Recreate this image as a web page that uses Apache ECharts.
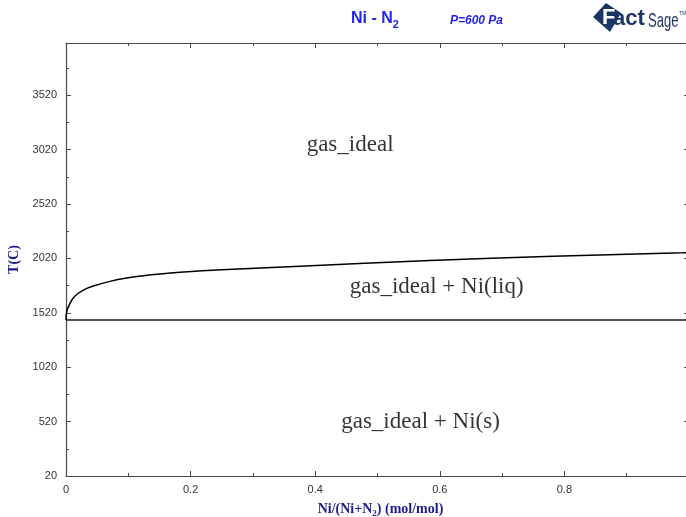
<!DOCTYPE html>
<html>
<head>
<meta charset="utf-8">
<title>Ni - N2 phase diagram</title>
<script src="https://cdn.jsdelivr.net/npm/echarts@6/dist/echarts.min.js"></script>
<style>
  html, body { margin: 0; padding: 0; background: #ffffff; }
  #chart { width: 686px; height: 517px; }
</style>
</head>
<body>
<div id="chart"></div>
<script>
// Boundary gas_ideal / gas_ideal + Ni(liq): mole fraction Ni vs. temperature (C)
const boundaryX = [0, 0.0011, 0.0064, 0.0144, 0.0278, 0.0438, 0.0706, 0.0974, 0.1242, 0.1509, 0.183, 0.25, 0.3756, 0.584, 0.782, 0.99, 1.0];
const boundaryT = [1455, 1530, 1607, 1674, 1729, 1766, 1809, 1840, 1861, 1877, 1892, 1915, 1948, 2000, 2040, 2072, 2074];

// Ni melting isotherm
const meltX = [0, 1];
const meltT = [1455, 1455];

// Phase field labels: [x, T, text]
const fieldLabels = [
  [0.456, 3062, 'gas_ideal'],
  [0.595, 1757, 'gas_ideal + Ni(liq)'],
  [0.569, 516, 'gas_ideal + Ni(s)']
];

// Axis ranges and tick steps
const xMin = 0, xMax = 1, xStep = 0.2;
const yMin = 20, yMax = 4000, yStep = 500;

const axisColor = '#4a4a4a';
const labelColor = '#333333';
const titleBlue = '#2424f0';
const axisNameColor = '#1c1c8a';
const logoNavy = '#1d3566';

const chart = echarts.init(document.getElementById('chart'), null, { renderer: 'canvas' });

const xCommon = {
  type: 'value', min: xMin, max: xMax, interval: xStep,
  axisLine: { show: true, onZero: false, lineStyle: { color: axisColor, width: 1.2 } },
  axisTick: { show: true, inside: true, length: 5, lineStyle: { color: axisColor } },
  minorTick: { show: true, splitNumber: 2, length: 3, lineStyle: { color: axisColor } },
  splitLine: { show: false }
};
const yCommon = {
  type: 'value', min: yMin, max: yMax, interval: yStep,
  axisLine: { show: true, onZero: false, lineStyle: { color: axisColor, width: 1.2 } },
  axisTick: { show: true, inside: true, length: 5, lineStyle: { color: axisColor } },
  minorTick: { show: true, splitNumber: 2, length: 3, lineStyle: { color: axisColor } },
  splitLine: { show: false }
};

const option = {
  backgroundColor: '#ffffff',
  animation: false,
  title: [
    {
      text: '{a|Ni - N}{s|2}',
      left: 351, top: 8, padding: 0,
      textStyle: {
        rich: {
          a: { fontFamily: 'Liberation Sans, Arial', fontSize: 16, fontWeight: 'bold', color: titleBlue, lineHeight: 22 },
          s: { fontFamily: 'Liberation Sans, Arial', fontSize: 11, fontWeight: 'bold', color: titleBlue, lineHeight: 8, verticalAlign: 'bottom' }
        }
      }
    },
    {
      text: 'P=600 Pa',
      left: 450, top: 15, padding: 0,
      textStyle: { fontFamily: 'Liberation Sans, Arial', fontSize: 12, fontWeight: 'bold', fontStyle: 'italic', color: titleBlue }
    }
  ],
  grid: { left: 66, width: 623, top: 43, bottom: 41, containLabel: false, outerBoundsMode: 'none' },
  xAxis: [
    Object.assign({}, xCommon, {
      position: 'bottom',
      name: '{a|Ni/(Ni+N}{s|2}{a|) (mol/mol)}',
      nameLocation: 'middle',
      nameGap: 24,
      nameTextStyle: {
        padding: [0, 0, 0, 6],
        rich: {
          a: { fontFamily: 'Liberation Serif, Times New Roman', fontSize: 14, fontWeight: 'bold', color: axisNameColor, lineHeight: 18 },
          s: { fontFamily: 'Liberation Serif, Times New Roman', fontSize: 9, fontWeight: 'bold', color: axisNameColor, lineHeight: 6, verticalAlign: 'bottom' }
        }
      },
      axisLabel: {
        show: true, margin: 8, color: labelColor, fontSize: 11, fontFamily: 'Liberation Sans, Arial',
        formatter: v => (v === 1 ? '' : String(+v.toFixed(1)))
      }
    }),
    Object.assign({}, xCommon, { position: 'top', axisLabel: { show: false } })
  ],
  yAxis: [
    Object.assign({}, yCommon, {
      position: 'left',
      name: 'T(C)',
      nameLocation: 'middle',
      nameGap: 34,
      nameTextStyle: { fontFamily: 'Liberation Serif, Times New Roman', fontSize: 14, fontWeight: 'bold', color: axisNameColor },
      axisLabel: {
        show: true, margin: 9, color: labelColor, fontSize: 11, fontFamily: 'Liberation Sans, Arial',
        formatter: v => ((v - yMin) % yStep === 0 ? String(v) : '')
      }
    }),
    Object.assign({}, yCommon, { position: 'right', axisLabel: { show: false } })
  ],
  series: [
    {
      name: 'liquidus boundary',
      type: 'line',
      xAxisIndex: 0, yAxisIndex: 0,
      data: boundaryX.map((x, i) => [x, boundaryT[i]]),
      showSymbol: false,
      smooth: 0.4,
      lineStyle: { color: '#000000', width: 1.5 },
      z: 3
    },
    {
      name: 'melting isotherm',
      type: 'line',
      xAxisIndex: 0, yAxisIndex: 0,
      data: meltX.map((x, i) => [x, meltT[i]]),
      showSymbol: false,
      lineStyle: { color: '#1a1a1a', width: 1.5 },
      z: 3
    },
    {
      name: 'field labels',
      type: 'scatter',
      xAxisIndex: 0, yAxisIndex: 0,
      data: fieldLabels,
      symbolSize: 0,
      silent: true,
      label: {
        show: true,
        position: 'inside',
        formatter: p => p.data[2],
        fontFamily: 'Liberation Serif, Times New Roman',
        fontSize: 23,
        color: '#000000'
      }
    }
  ],
  graphic: [
    {
      type: 'group',
      left: 593, top: 3,
      children: [
        { type: 'polygon', shape: { points: [[0, 14], [13, 0], [28, 10], [17, 29]] }, style: { fill: logoNavy } },
        { type: 'text', x: 9, y: 4, style: { text: 'F', fill: '#ffffff', font: 'bold 22px "Liberation Sans", Arial' } },
        { type: 'text', x: 20, y: 5, style: { text: 'act', fill: logoNavy, font: 'bold 22px "Liberation Sans", Arial' } },
        { type: 'text', x: 55, y: 8, scaleX: 0.62, style: { text: 'Sage', fill: logoNavy, font: '21px "Liberation Sans", Arial' } },
        { type: 'text', x: 86, y: 8, style: { text: 'TM', fill: logoNavy, font: '5px "Liberation Sans", Arial' } }
      ]
    }
  ]
};

chart.setOption(option);
</script>
</body>
</html>
